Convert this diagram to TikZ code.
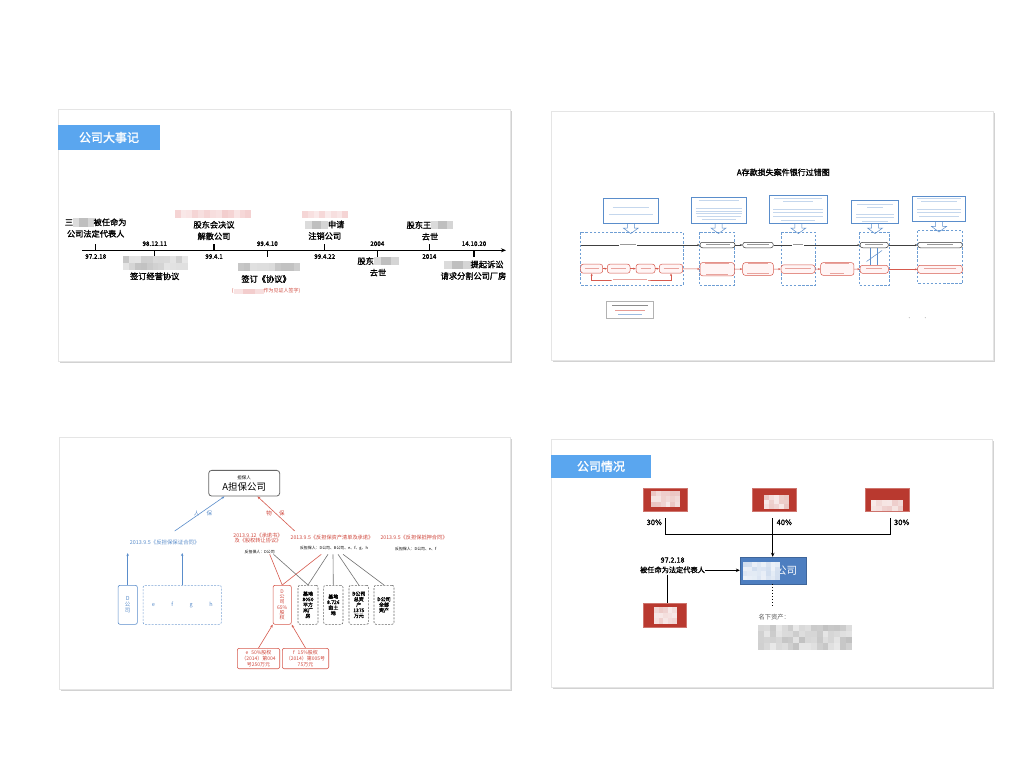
\documentclass[tikz,border=0pt]{standalone}
\usepackage{fontspec}
\setmainfont{Noto Sans CJK SC}[AutoFakeBold=1.5]
\usetikzlibrary{arrows.meta,shadows,calc}
\definecolor{titleblue}{HTML}{5AA6EF}
\definecolor{boxred}{HTML}{B9392F}
\definecolor{boxblue}{HTML}{4D7EC0}
\definecolor{lineblue}{HTML}{5A8DCB}
\definecolor{linered}{HTML}{D65A4E}
\definecolor{dashblue}{HTML}{6E9ED4}
\definecolor{txtred}{HTML}{D0473C}
\definecolor{pinkblur}{HTML}{E79A9A}
\newcommand\redact[2][gray]{{\color{#1!28}\rule[-.15em]{\dimexpr#2*3/10\relax}{1em}}{\color{#1!50}\rule[-.15em]{\dimexpr#2*4/10\relax}{1em}}{\color{#1!33}\rule[-.15em]{\dimexpr#2*3/10\relax}{1em}}}
\newcommand\mosaic[6]{%
  \pgfmathtruncatemacro\mznx{max(1,round((#3-#1)/#6))}%
  \pgfmathtruncatemacro\mzny{max(1,round((#4-#2)/#6))}%
  \pgfmathsetmacro\mzdx{(#3-#1)/\mznx}%
  \pgfmathsetmacro\mzdy{(#4-#2)/\mzny}%
  \foreach \i in {1,...,\mznx}{\foreach \j in {1,...,\mzny}{%
    \pgfmathtruncatemacro\mzsh{18+32*rnd}%
    \fill[#5!\mzsh] ({#1+(\i-1)*\mzdx},{#2+(\j-1)*\mzdy}) rectangle ++(\mzdx,\mzdy);%
  }}%
}
\newcommand\tbar[3]{\draw[txtbar] ({#1-#3/2},#2) -- ++(#3,0);}
\begin{document}
\begin{tikzpicture}[x=1pt,y=-1pt,
  slide/.style={fill=white,draw=black!10,line width=0.4pt,drop shadow={opacity=0.35,shadow xshift=1.6pt,shadow yshift=-1.8pt}},
  titlebar/.style={fill=titleblue,text=white,inner sep=0pt,font=\fontsize{12}{12}\selectfont\bfseries},
  axis/.style={line width=1.1pt,-{Stealth[length=5pt,width=4pt]}},
  tickmark/.style={line width=1.1pt},
  datel/.style={font=\fontsize{6.3}{7}\selectfont\bfseries,inner sep=0pt},
  evt/.style={align=center,inner sep=0pt,font=\fontsize{8.2}{11.5}\selectfont\bfseries},
  callbox/.style={draw=lineblue,line width=0.5pt,fill=white,inner sep=0pt},
  callarr/.style={draw=lineblue,line width=0.5pt},
  txtbar/.style={draw=lineblue!35,line width=0.8pt},
  dreg/.style={draw=dashblue,line width=0.6pt,dash pattern=on 2.5pt off 1.6pt},
  bnode/.style={draw=black!80,fill=white,rounded corners=2.5pt,line width=0.5pt,minimum height=5.5pt,inner sep=0pt},
  blk/.style={draw=black!75,line width=0.5pt,-{Stealth[length=2.5pt,width=2pt]}},
  rnode/.style={draw=linered,fill=red!4,rounded corners=2.5pt,line width=0.5pt,inner sep=0pt},
  rline/.style={draw=linered,line width=0.5pt,-{Stealth[length=2.5pt,width=2pt]}},
  xline/.style={draw=lineblue,line width=0.5pt},
  topbox/.style={draw=black!60,rounded corners=3pt,line width=0.8pt,fill=white,align=center,inner sep=0pt},
  barrow/.style={draw=lineblue,line width=0.6pt,-{Stealth[length=3pt,width=2.4pt]}},
  rarrow/.style={draw=linered,line width=0.6pt,-{Stealth[length=3pt,width=2.4pt]}},
  gline/.style={draw=black!55,line width=0.6pt},
  rplain/.style={draw=linered,line width=0.6pt},
  vbox/.style={align=center,inner sep=0pt,rounded corners=2pt,line width=0.6pt,minimum height=39pt},
  redsmall/.style={text=txtred,align=center,inner sep=0pt,font=\fontsize{5.2}{5.4}\selectfont},
  tinyblk/.style={inner sep=0pt,font=\fontsize{3.9}{4.5}\selectfont},
  redbox/.style={fill=boxred,draw=boxred!70,line width=0.4pt,inner sep=0pt,minimum width=43.4pt,minimum height=23.3pt},
  pct/.style={font=\fontsize{7.5}{8}\selectfont\bfseries,inner sep=0pt},
  conn/.style={draw=black,line width=1pt},
  connarr/.style={draw=black,line width=1pt,-{Stealth[length=4pt,width=3.5pt]}}
]
\pgfmathsetseed{7}
\path[use as bounding box,fill=white] (0,0) rectangle (1024,768);

% ================= Slide 1 =================
\path[slide] (58,109) rectangle (510,361);
\node[titlebar,minimum width=102pt,minimum height=25pt] (t1) at (109,137.5) {公司大事记};
\coordinate (ax0) at (82,250.3);
\coordinate (ax1) at (506,250.3);
\draw[axis] (ax0) -- (ax1);
\foreach \x/\d in {95.7/-1,154.7/1,214/-1,267.3/1,324.7/-1,377.3/1,429.3/-1,474/1}
  \draw[tickmark] (\x,250.3) -- ++(0,6.3*\d);
\node[datel] (d1) at (95.7,256.5) {97.2.18};
\node[datel] (d2) at (154.7,243.7) {98.12.11};
\node[datel] (d3) at (214,256.5) {99.4.1};
\node[datel] (d4) at (267.3,243.7) {99.4.10};
\node[datel] (d5) at (324.7,256.5) {99.4.22};
\node[datel] (d6) at (377.3,243.7) {2004};
\node[datel] (d7) at (429.3,256.5) {2014};
\node[datel] (d8) at (474,243.7) {14.10.20};
% mosaics
\mosaic{123}{256}{188}{270}{gray}{6}
\mosaic{174.7}{209.5}{251.3}{218}{pinkblur}{6}
\mosaic{238}{263}{299.7}{271.3}{gray}{6}
\mosaic{302}{211}{348}{218}{pinkblur}{6}
% events
\node[evt] (e1) at (95.7,228) {三\redact{2.5em}被任命为\\公司法定代表人};
\node[evt] (e2) at (154.7,276.3) {签订经营协议};
\node[evt] (e3) at (214,230.5) {股东会决议\\解散公司};
\node[evt] (e4) at (266,279) {签订《协议》};
\node[redsmall,font=\fontsize{5}{5.4}\selectfont] (e4b) at (266,291.3) {(\redact[pinkblur]{6em}作为见证人签字)};
\node[evt] (e5) at (324.7,230.2) {\redact{2.8em}申请\\注销公司};
\node[evt] (e6) at (378,266.8) {股东\redact{3em}\\去世};
\node[evt] (e7) at (430,230.8) {股东王\redact{2.7em}\\去世};
\node[evt] (e8) at (473.5,270.2) {\redact{3.3em}提起诉讼\\请求分割公司厂房};

% ================= Slide 2 =================
\path[slide] (551,111) rectangle (993,360);
\node[font=\fontsize{8}{9}\selectfont\bfseries,inner sep=0pt] (t2) at (783.3,172.3) {A存款损失案件银行过错图};
% dashed regions
\draw[dreg] (580.7,232.3) rectangle (683.3,285);
\draw[dreg] (699.3,232.3) rectangle (734.3,285);
\draw[dreg] (781,232.3) rectangle (815.7,285);
\draw[dreg] (859,232.3) rectangle (889.3,285);
\draw[dreg] (917.7,230.7) rectangle (962.7,283.3);
% callouts
\foreach \nm/\xa/\ya/\xb/\yb in {c1/603.3/198.3/658.3/223.3, c2/691/197.3/746/223.3, c3/769/195/827.7/223.3, c4/851.7/200.7/898.3/223.3, c5/912.3/196.7/965.7/221.7}{
  \node[callbox,minimum width={\xb-\xa},minimum height={\yb-\ya}] (\nm) at ({(\xa+\xb)/2},{(\ya+\yb)/2}) {};
  \draw[callarr] ($(\nm.south)+(-3.5,0)$) -- ++(0,4.5) -- ++(-4,0) -- ++(7.5,5.5) -- ++(7.5,-5.5) -- ++(-4,0) -- ++(0,-4.5);
}
\tbar{630.8}{207.7}{36} \tbar{630.8}{214.3}{44}
\tbar{718.5}{200.7}{40} \tbar{718.5}{208.3}{46} \tbar{718.5}{211}{46} \tbar{718.5}{213.7}{46} \tbar{718.5}{216.3}{44} \tbar{718.5}{219}{34}
\tbar{798.3}{198.3}{48} \tbar{798.3}{201.7}{30} \tbar{798.3}{209.3}{50} \tbar{798.3}{212.7}{50} \tbar{798.3}{216}{50} \tbar{798.3}{220}{34}
\tbar{875}{204.3}{36} \tbar{875}{207.7}{16} \tbar{875}{214.3}{38} \tbar{875}{217.7}{38} \tbar{875}{221}{26}
\tbar{939}{198.3}{44} \tbar{939}{201.7}{36} \tbar{939}{209.3}{44} \tbar{939}{212.7}{44} \tbar{939}{216}{40}
% black row
\coordinate (bstart) at (580.7,245);
\node[bnode,minimum width=35pt] (n1) at (717.5,245) {\color{black!40}\rule[.25ex]{24pt}{0.8pt}};
\node[bnode,minimum width=30.6pt] (n2) at (758,245) {\color{black!40}\rule[.25ex]{22pt}{0.8pt}};
\node[bnode,minimum width=28.3pt] (n3) at (874.2,245) {\color{black!40}\rule[.25ex]{18pt}{0.8pt}};
\node[bnode,minimum width=44.6pt] (n4) at (940,245) {\color{black!40}\rule[.25ex]{26pt}{0.8pt}};
\draw[blk] (bstart) -- (n1.west);
\draw[blk] (n1) -- (n2);
\draw[blk] (n2) -- (n3);
\draw[blk] (n3) -- (n4);
\node[fill=white,inner sep=0.6pt] (bl1) at (628,245) {\color{black!40}\rule[.25ex]{16pt}{0.8pt}};
\node[fill=white,inner sep=0.6pt] (bl2) at (798,245) {\color{black!40}\rule[.25ex]{10pt}{0.8pt}};
% red row
\node[rnode,minimum width=22pt,minimum height=9pt] (r1) at (591.7,268.7) {\color{linered!55}\rule[.25ex]{14pt}{0.8pt}};
\node[rnode,minimum width=22.7pt,minimum height=9pt] (r2) at (618.7,268.7) {\color{linered!55}\rule[.25ex]{15pt}{0.8pt}};
\node[rnode,minimum width=19pt,minimum height=9pt] (r3) at (645.5,268.7) {\color{linered!55}\rule[.25ex]{10pt}{0.8pt}};
\node[rnode,minimum width=23.4pt,minimum height=9pt] (r4) at (671,268.7) {\color{linered!55}\rule[.25ex]{15pt}{0.8pt}};
\node[rnode,minimum width=34.3pt,minimum height=11.7pt,align=center] (r5) at (717.2,269.2) {\color{linered!55}\rule[.25ex]{24pt}{0.8pt}\\[-1pt]\color{linered!55}\rule[.25ex]{22pt}{0.8pt}};
\node[rnode,minimum width=30.6pt,minimum height=10pt,align=center] (r6) at (758,269) {\color{linered!55}\rule[.25ex]{20pt}{0.8pt}\\[-1.5pt]\color{linered!55}\rule[.25ex]{22pt}{0.8pt}};
\node[rnode,minimum width=34pt,minimum height=8.3pt] (r7) at (798,269.1) {\color{linered!55}\rule[.25ex]{26pt}{0.8pt}};
\node[rnode,minimum width=33.3pt,minimum height=10pt,align=center] (r8) at (837.3,269) {\color{linered!55}\rule[.25ex]{24pt}{0.8pt}\\[-1.5pt]\color{linered!55}\rule[.25ex]{14pt}{0.8pt}};
\node[rnode,minimum width=28.3pt,minimum height=8pt] (r9) at (874.2,269.3) {\color{linered!55}\rule[.25ex]{16pt}{0.8pt}};
\node[rnode,minimum width=44.6pt,minimum height=8pt] (r10) at (940,269.3) {\color{linered!55}\rule[.25ex]{32pt}{0.8pt}};
\foreach \a/\b in {r1/r2,r2/r3,r3/r4,r4/r5,r5/r6,r6/r7,r7/r8,r8/r9,r9/r10}
  \draw[rline] (\a) -- (\b);
\coordinate (lp) at (630,280);
\draw[rline,{Stealth[length=2.5pt,width=2pt]}-{Stealth[length=2.5pt,width=2pt]}] (r1.south) |- (lp) -| (r4.south);
\node[fill=white,inner sep=0.6pt] (lpl) at (lp) {\color{linered!55}\rule[.25ex]{34pt}{0.8pt}};
% crossing marks
\draw[xline] (870,247.8) -- (870,265.3);
\draw[xline] (877,247.8) -- (877,265.3);
\draw[xline] (866.5,261.5) -- (882,250.5);
% legend
\node[draw=gray!60,line width=0.5pt,minimum width=46.6pt,minimum height=16.6pt,inner sep=0pt] (leg) at (630,310) {};
\tikzset{txtbar/.style={draw=black!45,line width=0.8pt}}
\tbar{630}{305.5}{36}
\tikzset{txtbar/.style={draw=linered!60,line width=0.8pt}}
\tbar{630}{310}{30}
\tikzset{txtbar/.style={draw=lineblue!60,line width=0.8pt}}
\tbar{630}{314.5}{24}
\fill[gray!55] (909.3,317.7) circle (0.6);
\fill[gray!55] (925.3,317.7) circle (0.6);

% ================= Slide 3 =================
\path[slide] (59,437) rectangle (510,689);
\node[topbox,minimum width=71pt,minimum height=25.7pt] (gu) at (244.2,483.2) {{\fontsize{4.5}{5}\selectfont 担保人}\\[-1pt]{\fontsize{9.5}{10}\selectfont A担保公司}};
\coordinate (pb) at (174.7,531);
\coordinate (pr) at (294.7,531);
\draw[barrow] (pb) -- ($(gu.south west)!0.225!(gu.south east)$);
\draw[rarrow] (pr) -- ($(gu.south west)!0.685!(gu.south east)$);
\node[inner sep=0pt,text=lineblue,font=\fontsize{5.5}{6}\selectfont] (lb1) at (203,513.5) {人\hspace{1.3em}保};
\node[inner sep=0pt,text=txtred,font=\fontsize{5.5}{6}\selectfont] (lb2) at (275.5,513.5) {物\hspace{1.3em}保};
\node[inner sep=0pt,text=lineblue,font=\fontsize{5.4}{6}\selectfont] (k1) at (164.7,542.7) {2013.9.5《反担保保证合同》};
\node[redsmall] (k2) at (258,537.8) {2013.9.12《承诺书》\\及《股权转让协议》};
\node[redsmall] (k3) at (332,537.7) {2013.9.5《反担保资产清单及承诺》};
\node[redsmall] (k4) at (414,537.7) {2013.9.5《反担保抵押合同》};
\node[tinyblk] (p2) at (259.7,551.7) {反担保人：D公司};
\node[tinyblk] (p3) at (334,548.7) {反担保人：D公司、B公司、e、f、g、h};
\node[tinyblk] (p4) at (415.7,548.7) {反担保人：D公司、e、f};
% left boxes
\node[vbox,draw=lineblue,minimum width=19.3pt,text=lineblue,font=\fontsize{5.5}{6}\selectfont] (bd) at (127.7,604.8) {D\\公\\司};
\node[vbox,draw=lineblue!80,dash pattern=on 2pt off 1.3pt,minimum width=78.3pt,text=lineblue,font=\fontsize{5.5}{6}\selectfont] (befgh) at (182.2,604.8) {e\hspace{16.5pt}f\hspace{16.5pt}g\hspace{16.5pt}h};
\draw[barrow] (bd.north) -- ++(0,-32);
\draw[barrow] (befgh.north) -- ++(0,-32);
% right boxes
\node[vbox,draw=linered,minimum width=18.3pt,text=txtred,font=\fontsize{5}{5.3}\selectfont] (ds) at (282.2,604.8) {D\\公\\司\\65\%\\股\\权};
\node[vbox,draw=black!60,dash pattern=on 2pt off 1.3pt,minimum width=20pt,font=\fontsize{5}{5.5}\selectfont\bfseries] (q1) at (308,604.8) {基地\\8050\\平方\\米厂\\房};
\node[vbox,draw=black!60,dash pattern=on 2pt off 1.3pt,minimum width=19.3pt,font=\fontsize{5}{5.5}\selectfont\bfseries] (q2) at (333.3,604.8) {基地\\8.726\\亩土\\地};
\node[vbox,draw=black!60,dash pattern=on 2pt off 1.3pt,minimum width=19.7pt,font=\fontsize{5}{5.5}\selectfont\bfseries] (q3) at (358.8,604.8) {B公司\\总资\\产\\1375\\万元};
\node[vbox,draw=black!60,dash pattern=on 2pt off 1.3pt,minimum width=20pt,font=\fontsize{5}{5.5}\selectfont\bfseries] (q4) at (384,604.8) {D公司\\全部\\资产};
\coordinate (s1) at (269.7,554.3);
\coordinate (s2) at (273.5,554.3);
\coordinate (s3) at (321.3,554.3);
\coordinate (s4) at (328,554.3);
\coordinate (s5) at (333,554.3);
\coordinate (s6) at (338,554.3);
\coordinate (s7) at (343,554.3);
\draw[rplain] (s1) -- (ds.north);
\draw[rplain] (s3) -- (ds.north);
\draw[gline] (s2) -- (q1.north);
\draw[gline] (s4) -- (q1.north);
\draw[gline] (s5) -- (q2.north);
\draw[gline] (s6) -- (q3.north);
\draw[gline] (s7) -- (q4.north);
\node[draw=linered,rounded corners=2pt,line width=0.6pt,minimum width=42.4pt,minimum height=20.4pt,inner sep=0pt,align=center,text=txtred,font=\fontsize{5}{6}\selectfont] (be) at (258.5,658.5) {e\hspace{0.6em}50\%股权\\（2014）第004\\号250万元};
\node[draw=linered,rounded corners=2pt,line width=0.6pt,minimum width=46.4pt,minimum height=20.4pt,inner sep=0pt,align=center,text=txtred,font=\fontsize{5}{6}\selectfont] (bf) at (305.5,658.5) {f\hspace{0.6em}15\%股权\\（2014）第005号\\75万元};
\draw[rarrow] (be.north) -- (ds.south west);
\draw[rarrow] (bf.north) -- (ds.south east);

% ================= Slide 4 =================
\path[slide] (551,439) rectangle (992,687);
\node[titlebar,minimum width=100pt,minimum height=23.3pt] (t4) at (601,466.3) {公司情况};
\node[redbox] (h1) at (665,499.7) {};
\node[redbox] (h2) at (774,499.7) {};
\node[redbox] (h3) at (887.2,499.7) {};
\node[redbox] (h4) at (664.7,615.3) {};
\mosaic{651}{491}{680}{507}{boxred!60!white}{5}
\mosaic{764}{495}{789}{509}{boxred!60!white}{5}
\mosaic{871}{500}{903}{511}{boxred!60!white}{5}
\mosaic{654}{607}{677}{624}{boxred!60!white}{5}
\node[pct] (pc1) at (654.3,522.3) {30\%};
\node[pct] (pc2) at (784.3,522.3) {40\%};
\node[pct] (pc3) at (901.7,522.3) {30\%};
\coordinate (j1) at (665.7,518);
\coordinate (j2) at (665.7,534);
\coordinate (j3) at (890,534);
\coordinate (j4) at (890,518);
\coordinate (j5) at (772.7,518);
\draw[conn] (j1) -- (j2) -- (j3) -- (j4);
\node[fill=boxblue,draw=boxblue!80!black,line width=0.3pt,minimum width=66pt,minimum height=26.7pt,inner sep=0pt,text=white,font=\fontsize{10.5}{11}\selectfont] (co) at (773,570.3) {\hspace{27pt}公司};
\mosaic{742.5}{562}{780}{580}{boxblue!55!white}{5}
\draw[connarr] (j5) -- (co.north -| j5);
\node[inner sep=0pt,align=center,font=\fontsize{7.2}{10}\selectfont\bfseries] (lr) at (672.5,565.3) {97.2.18\\被任命为法定代表人};
\draw[connarr] (lr.east |- co.west) -- (co.west);
\coordinate (v1) at (667.7,574.7);
\draw[line width=1pt] (v1) -- (v1 |- h4.north);
\coordinate (dt) at (772.7,606.3);
\draw[line width=1pt,dotted] (co.south -| dt) -- (dt);
\node[anchor=west,inner sep=0pt,text=black!65,font=\fontsize{6.3}{7}\selectfont] (assets) at (758.3,617) {名下资产：};
\mosaic{758.3}{624.7}{851.7}{649.7}{gray}{6}
\end{tikzpicture}
\end{document}
